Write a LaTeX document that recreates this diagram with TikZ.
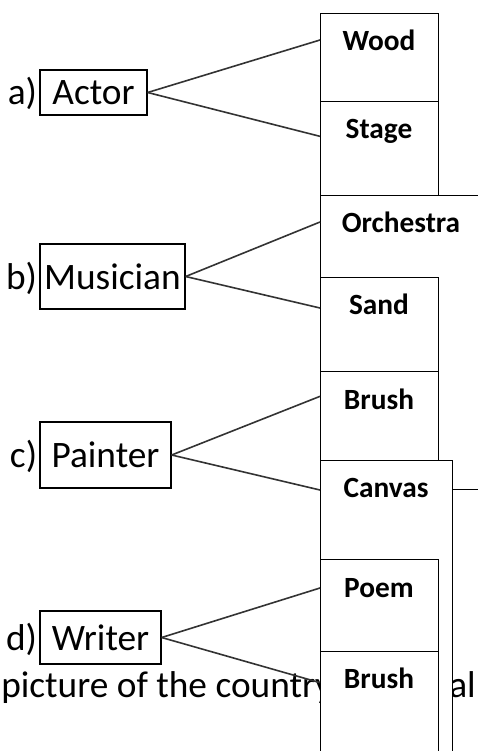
\documentclass[tikz,border=0pt]{standalone}
\usepackage{fontspec}
\setmainfont{Carlito}
\usepackage{tikz}

\tikzset{
  tag/.style={font=\fontsize{28}{33}\selectfont, inner sep=0pt},
  wordbox/.style={draw, line width=1pt, fill=white, inner sep=0pt, font=\fontsize{28}{33}\selectfont},
  pairbox/.style={draw, line width=1pt, fill=white, inner sep=0pt, anchor=north west},
  boxtext/.style={font=\fontsize{22}{26}\selectfont\bfseries, inner sep=0pt},
  link/.style={line width=1.2pt, draw=black!80}
}

\begin{document}
\begin{tikzpicture}[x=0.75pt,y=-0.75pt]
    \useasboundingbox (0,0) rectangle (478,751);
    \clip (0,0) rectangle (478,751);

    % Text line behind the boxes
    \node[tag, anchor=base west] (line) at (1,697) {picture of the country};
    \node[tag, anchor=base west] (wall) at (449,697) {all};

    % Right column of boxes
    \node[pairbox, minimum width=88.5pt, minimum height=66pt] (wood) at (320,13) {};
    \node[boxtext] (wood-t) at (379,40) {Wood};
    \node[pairbox, minimum width=88.5pt, minimum height=70.5pt] (stage) at (320,101) {};
    \node[boxtext] (stage-t) at (379,131) {Stage};
    \node[pairbox, minimum width=127.5pt, minimum height=220.5pt] (orch) at (320,195) {};
    \node[boxtext] (orch-t) at (401,222) {Orchestra};
    \node[pairbox, minimum width=88.5pt, minimum height=70.5pt] (sand) at (320,277) {};
    \node[boxtext] (sand-t) at (379,304) {Sand};
    \node[pairbox, minimum width=88.5pt, minimum height=66.75pt] (brush) at (320,371) {};
    \node[boxtext] (brush-t) at (379,399) {Brush};
    \node[pairbox, minimum width=99pt, minimum height=225pt] (canvas) at (320,460) {};
    \node[boxtext] (canvas-t) at (386,488) {Canvas};
    \node[pairbox, minimum width=88.5pt, minimum height=69pt] (poem) at (320,559) {};
    \node[boxtext] (poem-t) at (379,588) {Poem};
    \node[pairbox, minimum width=88.5pt, minimum height=81.75pt] (brush2) at (320,651) {};
    \node[boxtext] (brush2-t) at (379,678) {Brush};

    % Left column of words
    \node[wordbox, minimum width=80.25pt, minimum height=33.75pt] (actor) at (93.5,92.5) {Actor};
    \node[tag, anchor=base east] (a) at ([xshift=-1.5pt]actor.base west) {a)};
    \node[wordbox, minimum width=108.75pt, minimum height=48.75pt] (musician) at (112.5,276.5) {Musician};
    \node[tag, anchor=base east] (b) at ([xshift=-1.5pt]musician.base west) {b)};
    \node[wordbox, minimum width=98.25pt, minimum height=49.5pt] (painter) at (105.5,455) {Painter};
    \node[tag, anchor=base east] (c) at ([xshift=-1.5pt]painter.base west) {c)};
    \node[wordbox, minimum width=90.75pt, minimum height=39.75pt] (writer) at (100.5,637.5) {Writer};
    \node[tag, anchor=base east] (d) at ([xshift=-1.5pt]writer.base west) {d)};

    % Connectors
    \draw[link] (actor.east) -- (wood.west |- wood-t);
    \draw[link] (actor.east) -- ([yshift=-4pt]stage.west |- stage-t);
    \draw[link] (musician.east) -- (orch.west |- orch-t);
    \draw[link] (musician.east) -- ([yshift=-3pt]sand.west |- sand-t);
    \draw[link] (painter.east) -- ([yshift=2pt]brush.west |- brush-t);
    \draw[link] (painter.east) -- ([yshift=-1.5pt]canvas.west |- canvas-t);
    \draw[link] (writer.east) -- (poem.west |- poem-t);
    \draw[link] (writer.east) -- ([yshift=-3.5pt]brush2.west |- brush2-t);
\end{tikzpicture}
\end{document}
